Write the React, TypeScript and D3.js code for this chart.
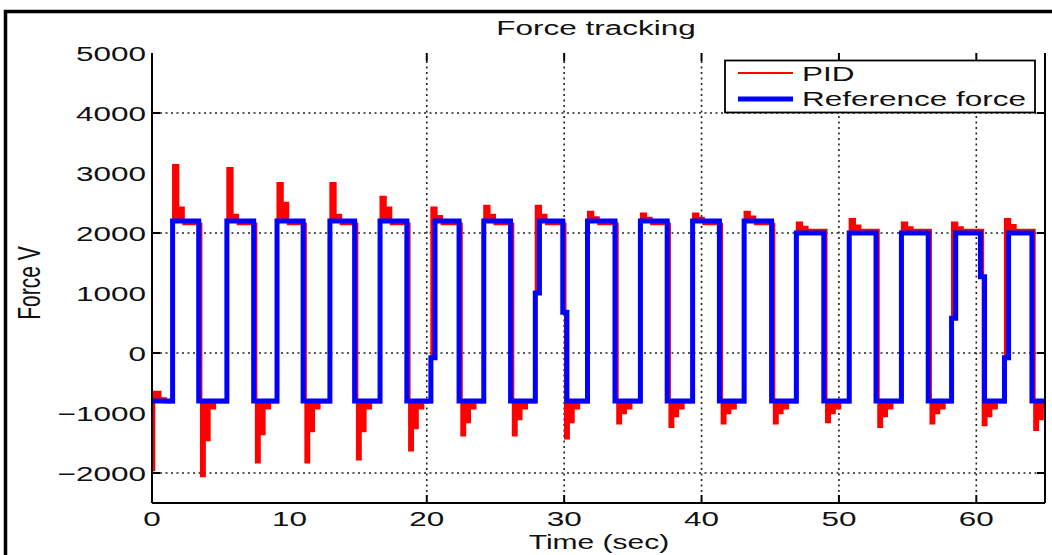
import React from 'react';
import * as d3 from 'd3';

// ---------- data ----------
const xDomain: [number, number] = [0, 65];
const yDomain: [number, number] = [-2500, 5000];

const yTickValues = [5000, 4000, 3000, 2000, 1000, 0, -1000, -2000];
const yTickLabels = ['5000', '4000', '3000', '2000', '1000', '0', '\u22121000', '\u22122000'];
const yMarkValues = [4000, 2000, 0, -2000];
const xTickValues = [0, 10, 20, 30, 40, 50, 60];
const xTickLabels = ['0', '10', '20', '30', '40', '50', '60'];
const xMarkValues = [20, 30, 40, 50, 60];

const titleText = 'Force tracking';
const xLabelText = 'Time (sec)';
const yLabelText = 'Force V';
const legendLabels = ['PID', 'Reference force'];

// reference force (square wave)
const riseTimes = [1.5, 5.45, 9.1, 12.95, 16.6, 20.3, 24.15, 27.9, 31.7, 35.55, 39.35, 43.1, 46.9, 50.75, 54.55, 58.2, 62.05];
const fallTimes = [3.4, 7.4, 11.0, 14.75, 18.55, 22.35, 26.1, 29.9, 33.7, 37.5, 41.3, 45.1, 48.9, 52.7, 56.5, 60.3, 64.05];
const refHigh = [2200, 2200, 2200, 2200, 2200, 2200, 2200, 2200, 2200, 2200, 2200, 2200, 2000, 2000, 2000, 2000, 2000];
const refLow = -800;
const refRiseMid: (number | null)[] = [null, null, null, null, null, -80, null, 1000, null, null, null, null, null, null, null, 580, -80];
const refFallMid: (number | null)[] = [null, null, null, null, null, null, null, 680, null, null, null, null, null, null, null, 1270, null];

// PID response, per pulse
const pidStart = [-1950, -650, -760, -820];
const pidPeak = [3130, 3080, 2830, 2830, 2600, 2420, 2450, 2450, 2350, 2320, 2320, 2350, 2170, 2230, 2170, 2170, 2230];
const pidStep = [2420, 2300, 2500, 2300, 2420, 2280, 2300, 2300, 2260, 2250, 2250, 2270, 2100, 2120, 2090, 2090, 2130];
const pidHold = [2150, 2150, 2150, 2150, 2150, 2150, 2150, 2150, 2150, 2150, 2150, 2150, 2050, 2050, 2050, 2050, 2050];
const pidTrough = [-2050, -1820, -1820, -1770, -1620, -1370, -1370, -1420, -1170, -1230, -1170, -1170, -1150, -1230, -1170, -1200, -1280];
const pidTroughStep = [-1450, -1350, -1300, -1300, -1250, -1150, -1100, -1150, -1000, -1050, -1000, -1000, -1000, -1050, -1000, -1050, -1100];
const pidSettle = [-920, -820];

// ---------- build series ----------
type Pt = [number, number];

function buildRef(): Pt[] {
  const pts: Pt[] = [[0, refLow]];
  riseTimes.forEach((tr, i) => {
    const m = refRiseMid[i];
    if (m !== null) {
      pts.push([tr, m]);
      pts.push([tr + 0.3, refHigh[i]]);
    } else pts.push([tr, refHigh[i]]);
    const tf = fallTimes[i];
    const fm = refFallMid[i];
    if (fm !== null) {
      pts.push([tf, fm]);
      pts.push([tf + 0.3, refLow]);
    } else pts.push([tf, refLow]);
  });
  pts.push([xDomain[1], refLow]);
  return pts;
}

function buildPid(): Pt[] {
  const pts: Pt[] = [
    [0, pidStart[0]],
    [0.15, pidStart[1]],
    [0.6, pidStart[2]],
    [1.0, pidStart[3]],
  ];
  riseTimes.forEach((t0, i) => {
    const tr = t0 + 0.05;
    pts.push([tr, pidPeak[i]]);
    pts.push([tr + 0.35, pidStep[i]]);
    pts.push([tr + 0.75, pidHold[i]]);
    const tf = fallTimes[i] + 0.18;
    pts.push([tf, pidTrough[i]]);
    pts.push([tf + 0.25, pidTroughStep[i]]);
    pts.push([tf + 0.6, pidSettle[0]]);
    pts.push([tf + 1.0, pidSettle[1]]);
  });
  pts.push([xDomain[1], pidSettle[1]]);
  return pts;
}

const FONT = "'Liberation Sans', Arial, Helvetica, sans-serif";

function SText(props: { x: number; y: number; anchor?: string; rotate?: number; size?: number; children: React.ReactNode }) {
  const { x, y, anchor = 'start', rotate, size = 21, children } = props;
  return (
    <text
      transform={`translate(${x},${y}) scale(1.5,1)${rotate !== undefined ? ` rotate(${rotate})` : ''}`}
      textAnchor={anchor}
      fontFamily={FONT}
      fontSize={size}
      fill="#111"
    >
      {children}
    </text>
  );
}

export default function App() {
  const W = 1052;
  const H = 555;
  const L = 152, R = 1045, T = 53, B = 503;
  const x = d3.scaleLinear().domain(xDomain).range([L, R]);
  const y = d3.scaleLinear().domain(yDomain).range([B, T]);

  const refPts = buildRef();
  const pidPts = buildPid();
  const refAt = (t: number) => {
    let v = refPts[0][1];
    for (const p of refPts) {
      if (p[0] <= t) v = p[1];
      else break;
    }
    return v;
  };

  const line = d3
    .line<Pt>()
    .x((d) => x(d[0]))
    .y((d) => y(d[1]))
    .curve(d3.curveStepAfter);

  const area = d3
    .area<Pt>()
    .x((d) => x(d[0]))
    .y0((d) => y(refAt(d[0])))
    .y1((d) => y(d[1]))
    .curve(d3.curveStepAfter);

  const refPath = line(refPts) || '';
  const pidPath = line(pidPts) || '';
  const pidFill = area(pidPts) || '';

  const dash = '2 3.5';
  const tickLen = 8;

  return (
    <svg width={W} height={H} style={{ position: 'absolute', left: 0, top: 0, background: '#fff' }}>
      <defs>
        <clipPath id="plotClip">
          <rect x={L} y={T} width={R - L} height={B - T} />
        </clipPath>
      </defs>
      <rect x={0} y={0} width={W} height={H} fill="#fff" />
      {/* outer frame */}
      <rect x={5.5} y={11.5} width={1200} height={700} fill="none" stroke="#000" strokeWidth={3.5} />

      {/* grid */}
      <g stroke="#222" strokeWidth={1.6} strokeDasharray={dash}>
        {yMarkValues.map((v) => (
          <line key={'gy' + v} x1={L + tickLen} x2={R - tickLen} y1={y(v)} y2={y(v)} />
        ))}
        {xMarkValues.map((v) => (
          <line key={'gx' + v} x1={x(v)} x2={x(v)} y1={T + tickLen} y2={B - tickLen} />
        ))}
      </g>

      {/* series */}
      <g clipPath="url(#plotClip)">
        <path d={pidFill} fill="#ff0000" stroke="none" />
        <path d={pidPath} fill="none" stroke="#ff0000" strokeWidth={2.5} />
        <path d={refPath} fill="none" stroke="#0000ff" strokeWidth={5} strokeLinejoin="miter" />
      </g>

      {/* axes */}
      <g stroke="#000" strokeWidth={2} fill="none">
        <line x1={L} x2={L} y1={T} y2={B} />
        <line x1={R} x2={R} y1={T} y2={B} />
        <line x1={L} x2={R} y1={B} y2={B} />
        {yMarkValues.map((v) => (
          <g key={'ty' + v}>
            <line x1={L} x2={L + tickLen} y1={y(v)} y2={y(v)} />
            <line x1={R - tickLen} x2={R} y1={y(v)} y2={y(v)} />
          </g>
        ))}
        {xMarkValues.map((v) => (
          <g key={'tx' + v}>
            <line x1={x(v)} x2={x(v)} y1={B} y2={B - tickLen} />
            <line x1={x(v)} x2={x(v)} y1={T} y2={T + tickLen} />
          </g>
        ))}
      </g>

      {/* tick labels */}
      {yTickValues.map((v, i) => (
        <SText key={'yl' + v} x={146} y={y(v) + 7.5} anchor="end">
          {yTickLabels[i]}
        </SText>
      ))}
      {xTickValues.map((v, i) => (
        <SText key={'xl' + v} x={x(v)} y={525.5} anchor="middle">
          {xTickLabels[i]}
        </SText>
      ))}

      {/* titles */}
      <SText x={596} y={35} anchor="middle">{titleText}</SText>
      <SText x={599} y={549} anchor="middle" size={20}>{xLabelText}</SText>
      <SText x={40} y={283} anchor="middle" rotate={-90}>{yLabelText}</SText>

      {/* legend */}
      <g>
        <rect x={725} y={60.5} width={310} height={52} fill="#fff" stroke="#000" strokeWidth={1.8} />
        <line x1={738} x2={793} y1={73} y2={73} stroke="#ff0000" strokeWidth={2} />
        <line x1={738} x2={793} y1={99} y2={99} stroke="#0000ff" strokeWidth={5} />
        <SText x={802} y={80.5}>{legendLabels[0]}</SText>
        <SText x={802} y={106}>{legendLabels[1]}</SText>
      </g>
    </svg>
  );
}
